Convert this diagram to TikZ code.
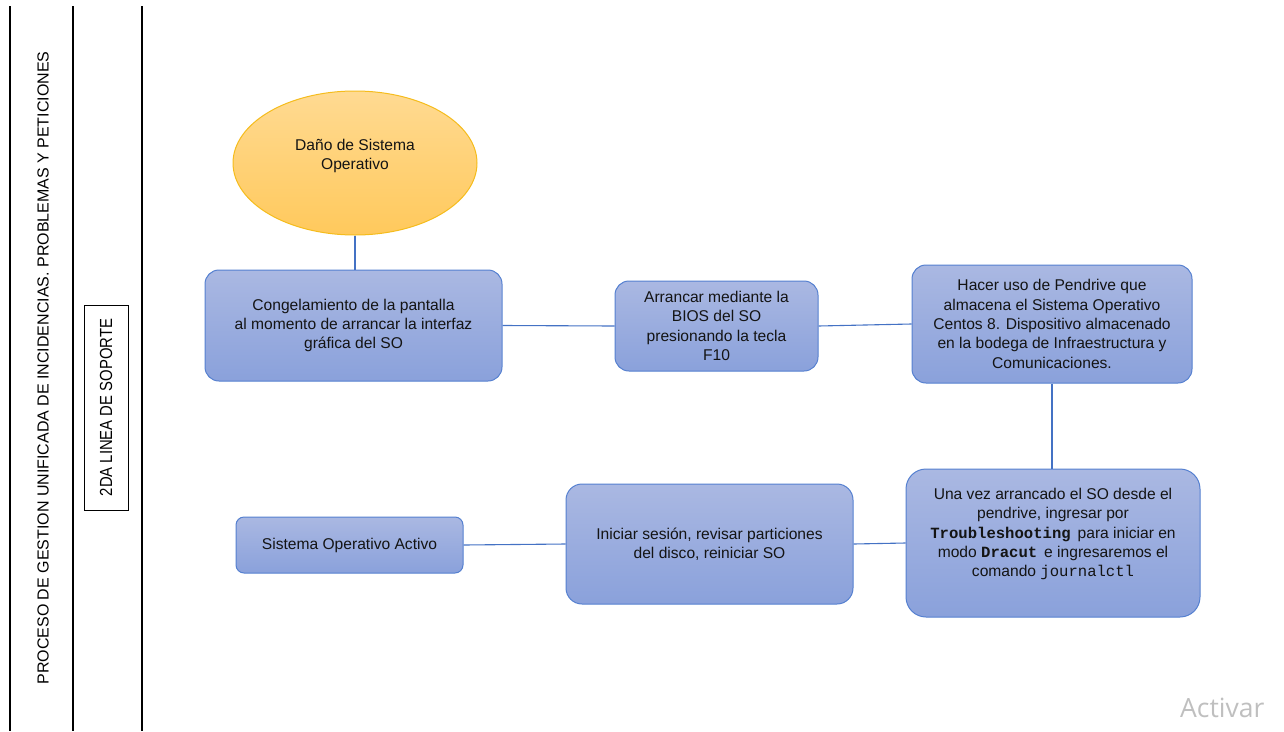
\documentclass[tikz,border=0pt]{standalone}
\usepackage{fontspec}
\setmainfont{Liberation Sans}
\setmonofont{Liberation Mono}
\newfontfamily\narrowsans[FakeStretch=0.85]{Liberation Sans}
\newfontfamily\watermarkfont{Open Sans}
\usetikzlibrary{shapes.geometric}

\definecolor{boxtop}{HTML}{AAB8E2}
\definecolor{boxbot}{HTML}{8AA1DB}
\definecolor{boxedge}{HTML}{5580D0}
\definecolor{linkblue}{HTML}{4472C4}
\definecolor{ovaltop}{HTML}{FFDA92}
\definecolor{ovalbot}{HTML}{FFC95C}
\definecolor{ovaledge}{HTML}{F5BC1C}
\definecolor{inktext}{HTML}{141414}

\begin{document}
\begin{tikzpicture}[x=1pt,y=-1pt,
  bodytext/.style={font=\fontsize{15.6}{19.3}\selectfont, text=inktext},
  flowbox/.style={bodytext, draw=boxedge, line width=1pt, rounded corners=14pt,
    top color=boxtop, bottom color=boxbot, align=center, inner sep=0pt},
  startoval/.style={bodytext, ellipse, draw=ovaledge, line width=1pt,
    top color=ovaltop, bottom color=ovalbot, align=center, inner sep=0pt},
  link/.style={draw=linkblue, line width=1.1pt},
  lane/.style={line width=2.6pt, black},
  lanetext/.style={font=\fontsize{16}{19}\selectfont, text=black, rotate=90},
  lanebox/.style={font=\narrowsans\fontsize{17.5}{20}\selectfont, text=black, rotate=90,
    draw=black, line width=1pt, inner sep=0pt}]

\path[use as bounding box] (0,0) rectangle (1284,731);
\clip (0,0) rectangle (1284,731);

% swimlane rules and titles
\draw[lane] (10,6) -- (10,731);
\draw[lane] (73,6) -- (73,731);
\draw[lane] (142,6) -- (142,731);
\node[lanetext] (process) at (43,368) {PROCESO DE GESTION UNIFICADA DE INCIDENCIAS. PROBLEMAS Y PETICIONES};
\node[lanebox, minimum width=205, minimum height=44] (lane) at (106,407.5) {2DA LINEA DE SOPORTE};

% start event
\node[startoval, minimum width=244, minimum height=144,
  label={[bodytext, align=center, yshift=7pt]center:Daño de Sistema\\Operativo}] (oval) at (355,163) {};

% process steps
\node[flowbox, minimum width=297, minimum height=111] (freeze) at (353.5,325.5)
  {Congelamiento de la pantalla\\al momento de arrancar la interfaz\\gráfica del SO};
\node[flowbox, minimum width=203, minimum height=90] (bios) at (716.5,326)
  {Arrancar mediante la\\BIOS del SO\\presionando la tecla\\F10};
\node[flowbox, minimum width=280, minimum height=118] (pendrive) at (1052,324)
  {Hacer uso de Pendrive que\\almacena el Sistema Operativo\\Centos 8. Dispositivo almacenado\\en la bodega de Infraestructura y\\Comunicaciones.};
\node[flowbox, rounded corners=20pt, minimum width=294, minimum height=148,
  label={[bodytext, align=center, yshift=9pt]center:Una vez arrancado el SO desde el\\pendrive, ingresar por\\\textbf{\texttt{Troubleshooting}}\, para iniciar en\\modo \textbf{\texttt{Dracut}}\, e ingresaremos el\\comando \texttt{journalctl}}] (dracut) at (1053,543) {};
\node[flowbox, rounded corners=16pt, minimum width=287, minimum height=120] (session) at (709.5,544)
  {Iniciar sesión, revisar particiones\\del disco, reiniciar SO};
\node[flowbox, rounded corners=8pt, minimum width=227, minimum height=56] (active) at (349.5,545)
  {Sistema Operativo Activo};

% connectors
\draw[link] (oval.south) -- (oval.south |- freeze.north);
\draw[link] (freeze.east) -- (bios.west);
\draw[link] (bios.east) -- (pendrive.west);
\draw[link] (pendrive.south) -- (pendrive.south |- dracut.north);
\draw[link] (dracut.west) -- (session.east);
\draw[link] (session.west) -- (active.east);

% watermark, cut at the right edge of the capture
\begin{scope}
  \clip (1150,680) rectangle (1263,731);
  \node[anchor=base west, inner sep=0pt, font=\watermarkfont\fontsize{26.5}{30}\selectfont, text=black!25] (mark) at (1180,717) {Activar};
\end{scope}
\end{tikzpicture}
\end{document}
